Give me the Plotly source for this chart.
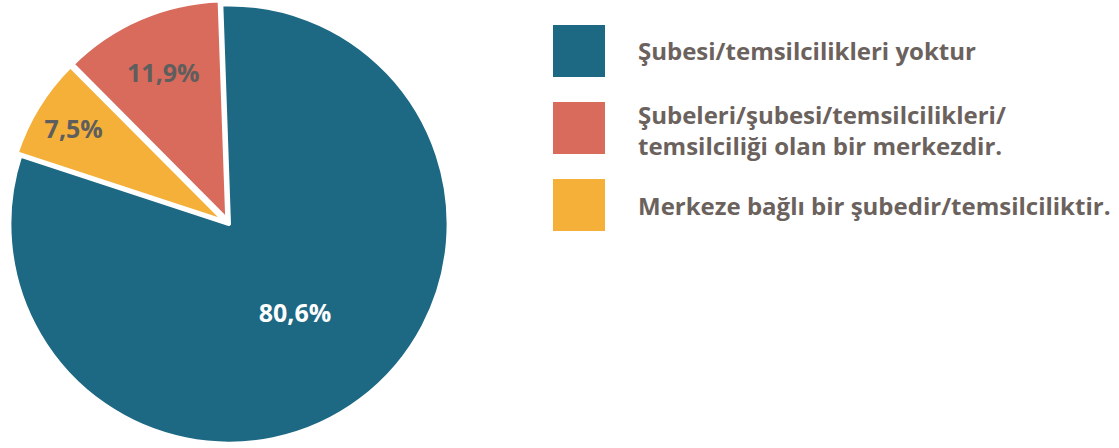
import plotly.graph_objects as go

labels = ["Şubesi/temsilcilikleri yoktur",
          "Şubeleri/şubesi/temsilcilikleri/\ntemsilciliği olan bir merkezdir.",
          "Merkeze bağlı bir şubedir/temsilciliktir."]
values = [80.6, 11.9, 7.5]
colors = ["#1d6882", "#d86b5c", "#f5b03a"]
text_colors = ["#ffffff", "#5e5e5e", "#5e5e5e"]
pulls = [0, 0.02, 0.02]

W, H = 1119, 448
FONT = "Open Sans"
LEG_COLOR = "#6b625e"

slice_text = [f"{v:.1f}".replace(".", ",") + "%" for v in values]

fig = go.Figure()
fig.add_trace(go.Pie(
    labels=[l.replace("\n", " ") for l in labels],
    values=values,
    text=slice_text,
    textinfo="text",
    textposition="inside",
    insidetextorientation="horizontal",
    insidetextfont=dict(family=FONT, size=25, color=text_colors, weight=700),
    marker=dict(colors=colors, line=dict(color="white", width=4)),
    sort=False,
    direction="counterclockwise",
    rotation=-2,
    pull=pulls,
    showlegend=False,
    domain=dict(x=[5 / W, 453 / W], y=[0, 1]),
    hoverinfo="label+text",
))

# manual legend with large square swatches
sq_top = [25, 102, 179]
sq_size = 52
shapes, annotations = [], []
for i, (lab, col) in enumerate(zip(labels, colors)):
    y0 = sq_top[i]
    shapes.append(dict(type="rect", xref="paper", yref="paper",
                       x0=553 / W, x1=(553 + sq_size) / W,
                       y0=1 - (y0 + sq_size) / H, y1=1 - y0 / H,
                       fillcolor=col, line=dict(width=0)))
    lines = lab.split("\n")
    if len(lines) == 1:
        centers = [y0 + sq_size / 2]
    else:
        centers = [y0 + sq_size / 2 - 14, y0 + sq_size / 2 + 17]
    for ln, cy in zip(lines, centers):
        annotations.append(dict(text=ln, xref="paper", yref="paper",
                                x=636 / W, y=1 - cy / H, xanchor="left", yanchor="middle",
                                showarrow=False,
                                font=dict(family=FONT, size=24, color=LEG_COLOR, weight=700)))

fig.update_layout(
    width=W, height=H,
    margin=dict(l=0, r=0, t=0, b=0),
    paper_bgcolor="white", plot_bgcolor="white",
    shapes=shapes, annotations=annotations,
)

fig.write_html("out.html", config={"displayModeBar": False},
               post_script="document.body.style.margin='0';")
